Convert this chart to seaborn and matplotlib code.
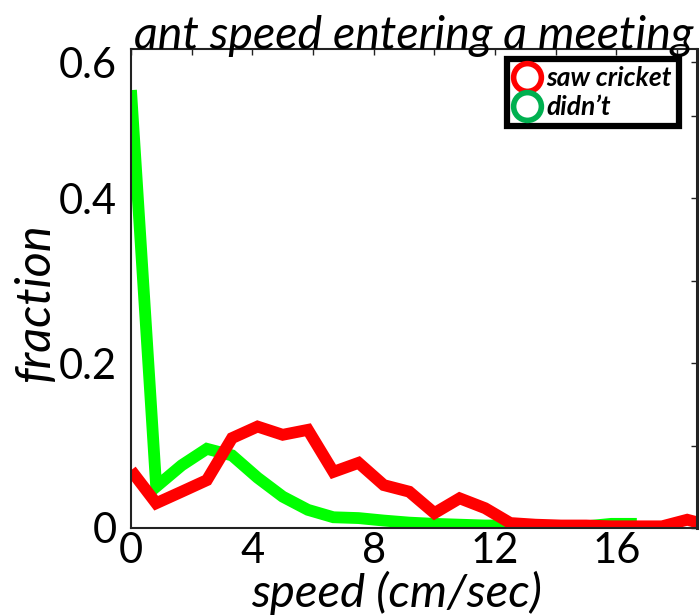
import matplotlib
matplotlib.use("Agg")
import matplotlib.pyplot as plt
from matplotlib.lines import Line2D
from matplotlib.ticker import MultipleLocator, FixedLocator
import seaborn as sns
import pandas as pd

# ---- data ----
speed = [0.0, 0.83, 1.67, 2.5, 3.33, 4.17, 5.0, 5.83, 6.67, 7.5, 8.33, 9.17,
         10.0, 10.83, 11.67, 12.5, 13.33, 14.17, 15.0, 15.83, 16.67, 17.5,
         18.33, 19.17]
saw_cricket = [0.070, 0.030, 0.044, 0.058, 0.109, 0.123, 0.113, 0.119, 0.068,
               0.079, 0.052, 0.044, 0.018, 0.036, 0.024, 0.006, 0.004, 0.003,
               0.003, 0.002, 0.002, 0.002, 0.010, 0.002]
didnt = [0.531, 0.050, 0.076, 0.096, 0.088, 0.061, 0.038, 0.022, 0.013, 0.012,
         0.009, 0.0065, 0.005, 0.004, 0.003, 0.003, 0.002, 0.002, 0.002,
         0.005, 0.005]
series_names = ["saw cricket", "didn\u2019t"]
line_colors = {"saw cricket": "#ff0000", "didn\u2019t": "#00ff00"}
legend_colors = {"saw cricket": "#ff0000", "didn\u2019t": "#00b050"}
x_ticks = [0, 4, 8, 12, 16]
y_tick_labels = ["0", "0.2", "0.4", "0.6"]

df = pd.concat([
    pd.DataFrame({"speed": speed, "fraction": saw_cricket, "group": series_names[0]}),
    pd.DataFrame({"speed": speed[:len(didnt)], "fraction": didnt, "group": series_names[1]}),
], ignore_index=True)

sns.set_theme(style="white")
plt.rcParams["font.family"] = ["Lato", "DejaVu Sans"]
plt.rcParams["text.color"] = "black"
plt.rcParams["axes.labelcolor"] = "black"

fig = plt.figure(figsize=(6.99, 6.15), dpi=100)
ax = fig.add_axes([0.1874, 0.1415, 0.8096, 0.7785])

sns.lineplot(data=df, x="speed", y="fraction", hue="group",
             hue_order=[series_names[1], series_names[0]],
             palette=line_colors, linewidth=8.5, legend=False, ax=ax,
             estimator=None, sort=False)
for ln in ax.lines:
    ln.set_solid_joinstyle("miter")
    ln.set_solid_capstyle("butt")

ax.set_xlim(0, 18.65)
ax.set_ylim(0, 0.5806)

# ticks
ax.xaxis.set_major_locator(FixedLocator(x_ticks))
ax.xaxis.set_minor_locator(MultipleLocator(2))
ax.set_xticklabels([str(t) for t in x_ticks])
ax.yaxis.set_major_locator(FixedLocator([0, 0.2, 0.4, 0.565]))
ax.set_yticklabels(y_tick_labels)
ax.yaxis.set_minor_locator(MultipleLocator(0.1))
ax.tick_params(axis="both", which="both", direction="in", top=True, right=True,
               colors="#222222", labelcolor="black")
ax.tick_params(axis="both", which="major", length=4, width=1, labelsize=30)
ax.tick_params(axis="both", which="minor", length=4, width=1)
ax.tick_params(axis="y", which="major", pad=10)
ax.tick_params(axis="x", which="major", pad=3)
for s in ax.spines.values():
    s.set_color("#222222")
    s.set_linewidth(1.5)
ax.spines["right"].set_linewidth(2.2)

ax.set_xlabel("speed (cm/sec)", fontsize=34, style="italic", color="black")
ax.xaxis.set_label_coords(0.47, -0.09)
ax.set_ylabel("fraction", fontsize=35, style="italic", color="black")
ax.yaxis.set_label_coords(-0.13, 0.47)
ax.set_title("ant speed entering a meeting", fontsize=33.5, style="italic",
             pad=0, color="black")

handles = [Line2D([], [], linestyle="none", marker="o", markersize=20,
                  markerfacecolor="none", markeredgecolor=legend_colors[n],
                  markeredgewidth=4, label=n) for n in series_names]
leg = ax.legend(handles=handles, loc="upper right", bbox_to_anchor=(0.977, 0.99),
                frameon=True, fancybox=False, borderpad=0.25, handletextpad=0.25,
                handlelength=1.0, labelspacing=0.2, borderaxespad=0.2,
                prop={"size": 19, "weight": "bold", "style": "italic"})
frame = leg.get_frame()
frame.set_edgecolor("black")
frame.set_linewidth(4.5)
frame.set_alpha(1)

fig.savefig("out.png", dpi=100)
